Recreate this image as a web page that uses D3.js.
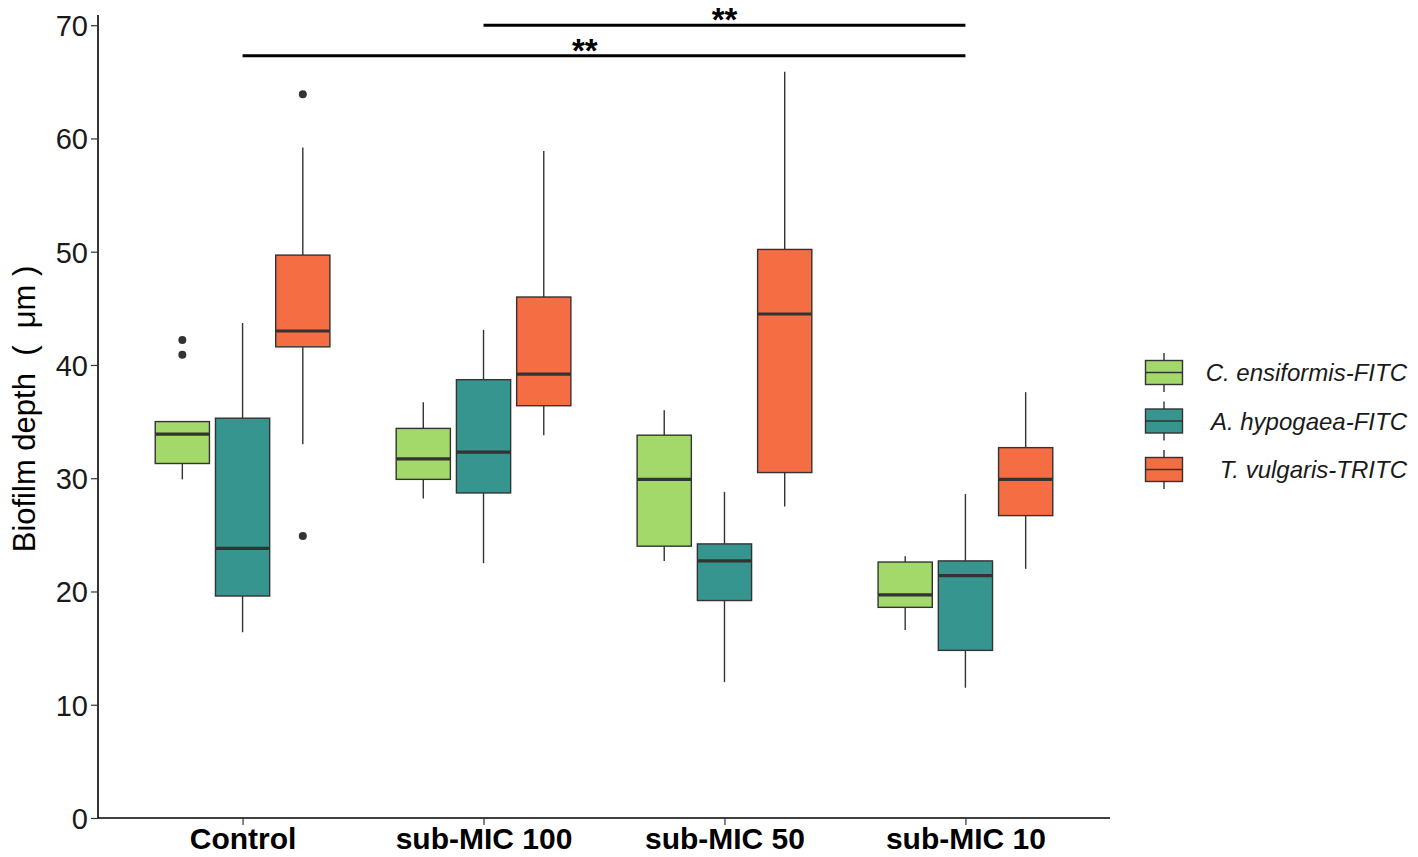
<!DOCTYPE html>
<html>
<head>
<meta charset="utf-8">
<script src="https://cdn.jsdelivr.net/npm/d3@7"></script>
<style>
  html, body { margin: 0; padding: 0; background: #fff; }
  svg { display: block; }
  text { font-family: "Liberation Sans", Arial, sans-serif; }
</style>
</head>
<body>
<svg id="chart" width="1418" height="857"></svg>
<script>
// ---- data ----
const categories = ["Control", "sub-MIC 100", "sub-MIC 50", "sub-MIC 10"];
const seriesNames = ["C. ensiformis-FITC", "A. hypogaea-FITC", "T. vulgaris-TRITC"];
const seriesColors = ["#a3d86a", "#36968f", "#f46d43"];
// five-number summaries per category: [lowerWhisker, q1, median, q3, upperWhisker]
const ensiformisStats = [[29.9, 31.3, 33.9, 35.0, 35.0], [28.2, 29.9, 31.7, 34.4, 36.7], [22.7, 24.0, 29.9, 33.8, 36.0], [16.6, 18.6, 19.7, 22.6, 23.1]];
const hypogaeaStats   = [[16.4, 19.6, 23.8, 35.3, 43.7], [22.5, 28.7, 32.3, 38.7, 43.1], [12.0, 19.2, 22.7, 24.2, 28.8], [11.5, 14.8, 21.4, 22.7, 28.6]];
const vulgarisStats   = [[33.0, 41.6, 43.0, 49.7, 59.2], [33.8, 36.4, 39.2, 46.0, 58.9], [27.5, 30.5, 44.5, 50.2, 65.9], [22.0, 26.7, 29.9, 32.7, 37.6]];
const ensiformisOutliers = [[42.2, 40.9], [], [], []];
const hypogaeaOutliers   = [[], [], [], []];
const vulgarisOutliers   = [[63.9, 24.9], [], [], []];
const yTicks = [0, 10, 20, 30, 40, 50, 60, 70];
// significance brackets
const sigFrom = ["sub-MIC 100", "Control"];
const sigTo = ["sub-MIC 10", "sub-MIC 10"];
const sigY = [70.0, 67.3];
const sigLabel = ["**", "**"];
const sigLabelPos = [2.0, 1.42]; // label position in category-index units

const allStats = [ensiformisStats, hypogaeaStats, vulgarisStats];
const allOutliers = [ensiformisOutliers, hypogaeaOutliers, vulgarisOutliers];

// ---- layout ----
const svg = d3.select("#chart");
const pLeft = 98, pRight = 1110, pTop = 15, pBottom = 818;

// ggplot-like discrete expansion (0.6 on each side)
const xc = d3.scalePoint().domain(categories).range([pLeft, pRight]).padding(0.6);
const step = xc.step();
const xIdx = d3.scaleLinear().domain([0, categories.length - 1]).range([xc(categories[0]), xc(categories[categories.length - 1])]);
const dodge = 0.75 * step;
const slot = dodge / seriesNames.length;
const boxW = slot * 0.9;
const y = d3.scaleLinear().domain([0, 70.9]).range([pBottom, pTop]);

const ink = "#333333";

// boxes
seriesNames.forEach((name, si) => {
  const g = svg.append("g");
  categories.forEach((cat, ci) => {
    const s = allStats[si][ci];
    const cx = xc(cat) - dodge / 2 + slot * (si + 0.5);
    g.append("line").attr("x1", cx).attr("x2", cx).attr("y1", y(s[4])).attr("y2", y(s[3]))
      .attr("stroke", ink).attr("stroke-width", 1.4);
    g.append("line").attr("x1", cx).attr("x2", cx).attr("y1", y(s[1])).attr("y2", y(s[0]))
      .attr("stroke", ink).attr("stroke-width", 1.4);
    g.append("rect").attr("x", cx - boxW / 2).attr("width", boxW)
      .attr("y", y(s[3])).attr("height", y(s[1]) - y(s[3]))
      .attr("fill", seriesColors[si]).attr("stroke", ink).attr("stroke-width", 1.4);
    g.append("line").attr("x1", cx - boxW / 2).attr("x2", cx + boxW / 2)
      .attr("y1", y(s[2])).attr("y2", y(s[2]))
      .attr("stroke", ink).attr("stroke-width", 3.2);
    allOutliers[si][ci].forEach(v => {
      g.append("circle").attr("cx", cx).attr("cy", y(v)).attr("r", 4).attr("fill", ink);
    });
  });
});

// axes
const yAxis = d3.axisLeft(y).tickValues(yTicks).tickSize(7).tickPadding(3);
const gy = svg.append("g").attr("transform", `translate(${pLeft},0)`).call(yAxis);
gy.select(".domain").attr("stroke", "#000").attr("stroke-width", 1.6).attr("d", `M0,${pTop}V${pBottom}`);
gy.selectAll(".tick line").attr("stroke", ink).attr("stroke-width", 1.2);
gy.selectAll(".tick text").attr("font-size", 29).attr("fill", "#1a1a1a")
  .attr("font-family", "'Liberation Sans', Arial, sans-serif").attr("dy", "0.36em");

const xAxis = d3.axisBottom(xc).tickSize(7).tickPadding(3);
const gx = svg.append("g").attr("transform", `translate(0,${pBottom})`).call(xAxis);
gx.select(".domain").attr("stroke", "#000").attr("stroke-width", 1.6).attr("d", `M${pLeft},0H${pRight}`);
gx.selectAll(".tick line").attr("stroke", ink).attr("stroke-width", 1.2);
gx.selectAll(".tick text").attr("font-size", 30).attr("font-weight", "bold").attr("fill", "#000")
  .attr("font-family", "'Liberation Sans', Arial, sans-serif").attr("dy", "0").attr("y", 31);

// y title
svg.append("text")
  .attr("transform", `translate(35,409) rotate(-90)`)
  .attr("text-anchor", "middle")
  .attr("font-size", 31).attr("fill", "#000")
  .style("white-space", "pre")
  .text("Biofilm depth\u00a0\u00a0(\u00a0\u00a0\u03bcm\u00a0)");

// significance brackets
sigFrom.forEach((f, i) => {
  const x1 = xc(f), x2 = xc(sigTo[i]);
  const yy = y(sigY[i]);
  svg.append("line").attr("x1", x1).attr("x2", x2).attr("y1", yy).attr("y2", yy)
    .attr("stroke", "#000").attr("stroke-width", 3);
  svg.append("text").attr("x", xIdx(sigLabelPos[i])).attr("y", yy + 6)
    .attr("text-anchor", "middle").attr("font-size", 33).attr("font-weight", "bold")
    .attr("fill", "#000").text(sigLabel[i]);
});

// legend
const legX = 1164, legY0 = 372.5, legStep = 48.5, kW = 37, kH = 24;
seriesNames.forEach((name, i) => {
  const cy = legY0 + i * legStep;
  const g = svg.append("g");
  g.append("line").attr("x1", legX).attr("x2", legX).attr("y1", cy - 19.5).attr("y2", cy + 19.5)
    .attr("stroke", ink).attr("stroke-width", 1.4);
  g.append("rect").attr("x", legX - kW / 2).attr("y", cy - kH / 2).attr("width", kW).attr("height", kH)
    .attr("fill", seriesColors[i]).attr("stroke", ink).attr("stroke-width", 1.4);
  g.append("line").attr("x1", legX - kW / 2).attr("x2", legX + kW / 2).attr("y1", cy).attr("y2", cy)
    .attr("stroke", ink).attr("stroke-width", 1.4);
  g.append("text").attr("x", 1407).attr("y", cy).attr("dy", "0.36em")
    .attr("text-anchor", "end").attr("font-size", 24).attr("font-style", "italic")
    .attr("fill", "#1a1a1a").text(name);
});
</script>
</body>
</html>
